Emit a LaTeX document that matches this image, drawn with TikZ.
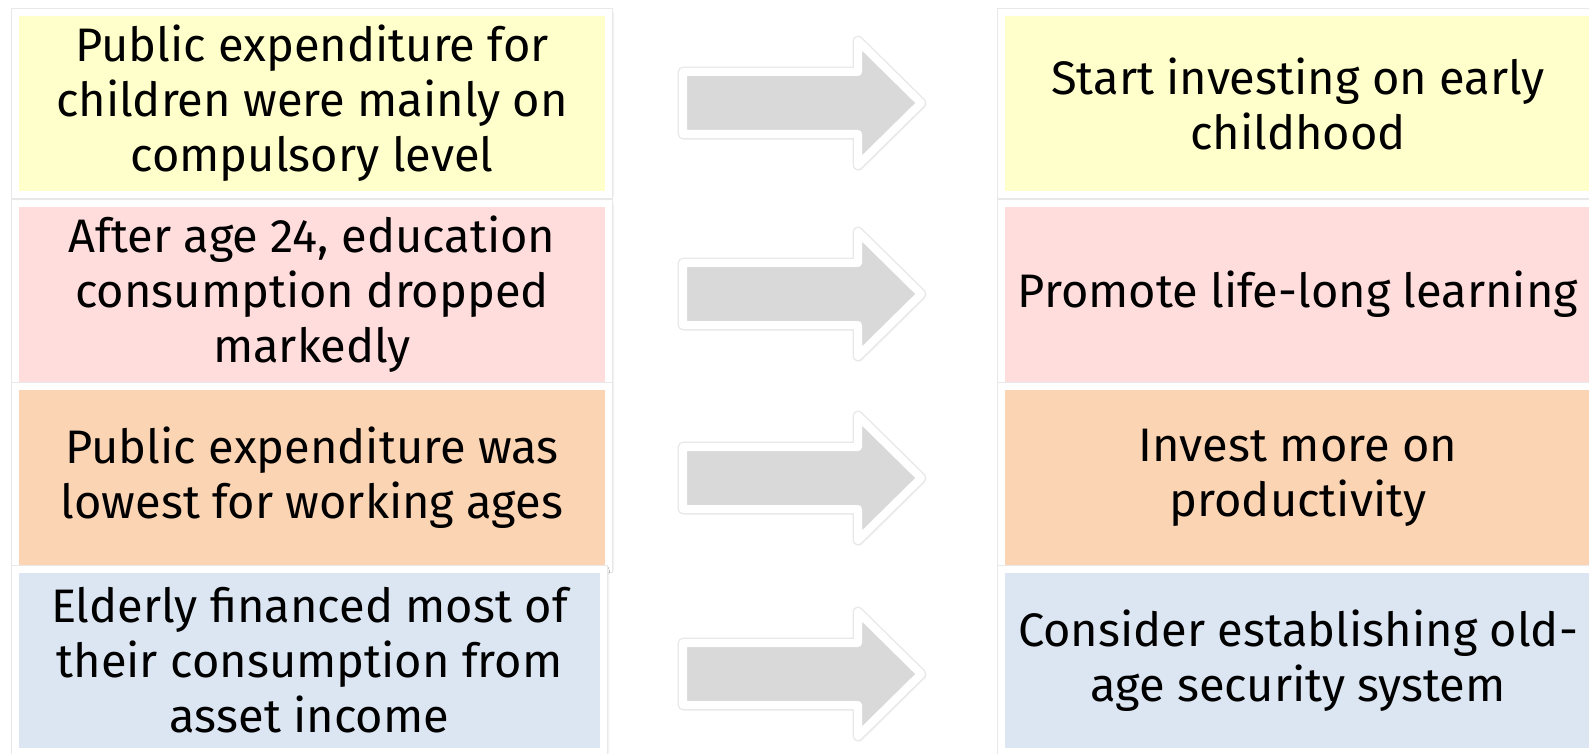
\documentclass[tikz,border=0pt]{standalone}
\usepackage{fontspec}
\setmainfont{Fira Sans}
\usetikzlibrary{shadows.blur}

\definecolor{boxyellow}{HTML}{FFFFCC}
\definecolor{boxpink}{HTML}{FFDDDD}
\definecolor{boxpeach}{HTML}{FBD4B4}
\definecolor{boxblue}{HTML}{DCE6F2}
\definecolor{arrowgray}{HTML}{D9D9D9}

\begin{document}
\begin{tikzpicture}[x=0.5pt, y=-0.5pt,
	softshadow/.style={blur shadow={shadow xshift=0.5pt, shadow yshift=-0.6pt, shadow blur radius=2.5pt, shadow blur steps=8, shadow opacity=50}},
	box/.style={rectangle, draw=white, line width=3.5pt, inner sep=0pt,
		minimum width=296.5pt, minimum height=91pt, align=center,
		font=\fontsize{23.5}{27.5}\selectfont, softshadow,
		preaction={draw=black!9, line width=4.8pt}},
	blockarrow/.style={fill=arrowgray, draw=white, line width=4pt, line join=round, softshadow,
		preaction={draw=black!9, line width=5.4pt, line join=round}}]
	\useasboundingbox (0,0) rectangle (1589,754);

	% Findings on the left
	\node [box, fill=boxyellow]	(f1) at (312,103.5)	{Public expenditure for\\children were mainly on\\compulsory level};
	\node [box, fill=boxpink]	(f2) at (312,294.5)	{After age 24, education\\consumption dropped\\markedly};
	\node [box, fill=boxpeach]	(f3) at (312,477.5)	{Public expenditure was\\lowest for working ages};
	\node [box, fill=boxblue, minimum width=294pt]	(f4) at (309.5,660.5)	{Elderly financed most of\\their consumption from\\asset income};

	% Recommendations on the right
	\node [box, fill=boxyellow]	(r1) at (1298,103.5)	{Start investing on early\\childhood};
	\node [box, fill=boxpink]	(r2) at (1298,294.5)	{Promote life-long learning};
	\node [box, fill=boxpeach]	(r3) at (1298,477.5)	{Invest more on\\productivity};
	\node [box, fill=boxblue]	(r4) at (1298,660.5)	{Consider establishing old-\\age security system};

	% Block arrows in between
	\coordinate (a1) at (683,103);
	\coordinate (a2) at (683,294);
	\coordinate (a3) at (683,478);
	\coordinate (a4) at (683,674);
	\draw [blockarrow] (a1) ++(0,-31) -- ++(175,0) -- ++(0,-31) -- ++(63,62) -- ++(-63,62) -- ++(0,-31) -- ++(-175,0) -- cycle;
	\draw [blockarrow] (a2) ++(0,-31) -- ++(175,0) -- ++(0,-31) -- ++(63,62) -- ++(-63,62) -- ++(0,-31) -- ++(-175,0) -- cycle;
	\draw [blockarrow] (a3) ++(0,-31) -- ++(175,0) -- ++(0,-31) -- ++(63,62) -- ++(-63,62) -- ++(0,-31) -- ++(-175,0) -- cycle;
	\draw [blockarrow] (a4) ++(0,-31) -- ++(175,0) -- ++(0,-31) -- ++(63,62) -- ++(-63,62) -- ++(0,-31) -- ++(-175,0) -- cycle;

\end{tikzpicture}
\end{document}
